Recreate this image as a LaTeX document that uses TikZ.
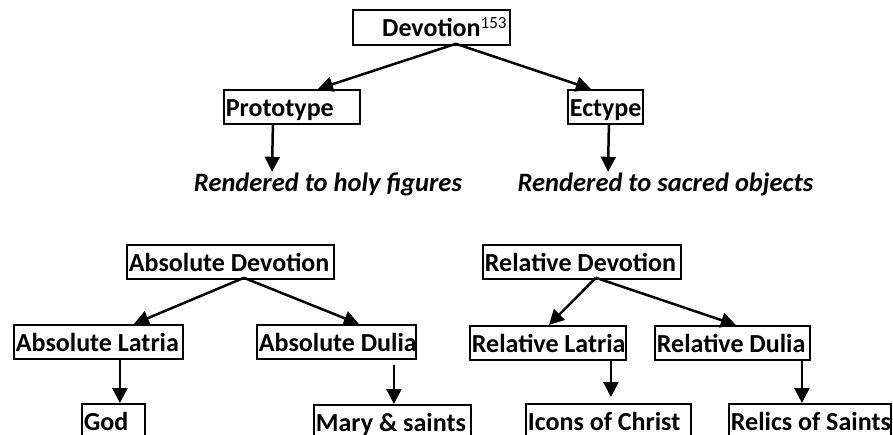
\documentclass[tikz,border=0pt]{standalone}
\usepackage{fontspec}
\setmainfont{Carlito}
\usetikzlibrary{arrows.meta,calc}
\newcommand{\lbox}[2]{\makebox[\dimexpr#1-4pt\relax][l]{#2}}
\begin{document}
\begin{tikzpicture}[x=1pt,y=-1pt,
  bx/.style={draw, line width=1.8pt, inner xsep=2pt, inner ysep=0pt, minimum height=34pt,
    text height=22pt, text depth=3pt,
    anchor=north west, font=\fontsize{26}{29}\selectfont\bfseries},
  leaf/.style={inner sep=0pt, anchor=base, text height=20pt, text depth=6pt,
    font=\fontsize{26.5}{29}\selectfont\bfseries\itshape},
  arr/.style={line width=2.5pt, -{Triangle[width=15pt,length=15pt]}}]
\clip (0,0) rectangle (893,435);
% top tree
\node[bx, minimum width=157pt, minimum height=35pt, inner xsep=0pt] (dev) at (352,9)
  {Devotion\rlap{\raisebox{8pt}{\fontsize{17}{17}\selectfont\mdseries 153}}};
\node[bx, minimum width=136pt] (proto) at (223,89) {\lbox{136pt}{Prototype}};
\node[bx, minimum width=75pt] (ect) at (567,89) {\lbox{75pt}{Ectype}};
\node[leaf] (rend1) at (328,192) {Rendered to holy figures};
\node[leaf] (rend2) at (665.5,192) {Rendered to sacred objects};
\draw[arr] ([xshift=24.5pt,yshift=2pt]dev.south) -- ([xshift=26pt]proto.north);
\draw[arr] ([xshift=24.5pt,yshift=2pt]dev.south) -- ([xshift=-14.5pt]ect.north);
\draw[arr] ([xshift=-19pt]proto.south) -- ([xshift=-56pt]rend1.north);
\draw[arr] ([xshift=3.5pt]ect.south) -- ([xshift=-57.5pt]rend2.north);
% absolute
\node[bx, minimum width=207pt] (absdev) at (126,244) {\lbox{207pt}{Absolute Devotion}};
\node[bx, minimum width=169pt] (abslat) at (13,324) {\lbox{169pt}{Absolute Latria}};
\node[bx, minimum width=159pt] (absdul) at (256,324) {\lbox{159pt}{Absolute Dulia}};
\node[bx, minimum width=63pt] (god) at (81,403) {\lbox{63pt}{God}};
\node[bx, minimum width=157pt] (mary) at (313,404) {\lbox{157pt}{Mary \& saints}};
\draw[arr] ([xshift=13.5pt,yshift=2pt]absdev.south) -- ([xshift=35.5pt]abslat.north);
\draw[arr] ([xshift=13.5pt,yshift=2pt]absdev.south) -- ([xshift=22.5pt]absdul.north);
\draw[arr] ([xshift=21.5pt]abslat.south) -- ([xshift=6.5pt]god.north);
\draw[arr] ([xshift=57.5pt,yshift=-5pt]absdul.south) -- ([xshift=1.5pt]mary.north);
% relative
\node[bx, minimum width=198pt] (reldev) at (482,244) {\lbox{198pt}{Relative Devotion}};
\node[bx, minimum width=156pt] (rellat) at (469,325) {\lbox{156pt}{Relative Latria}};
\node[bx, minimum width=155pt] (reldul) at (654,325) {\lbox{155pt}{Relative Dulia}};
\node[bx, minimum width=165pt] (icons) at (525,403) {\lbox{165pt}{Icons of Christ}};
\node[bx, minimum width=162pt] (relics) at (728,403) {\lbox{162pt}{Relics of Saints}};
\draw[arr] ([xshift=14pt,yshift=2pt]reldev.south) -- ([xshift=1pt]rellat.north);
\draw[arr] ([xshift=14pt,yshift=2pt]reldev.south) -- ([xshift=3.5pt]reldul.north);
\draw[arr] ([xshift=63pt]rellat.south) -- ([xshift=2.5pt,yshift=6pt]icons.north);
\draw[arr] ([xshift=69.5pt]reldul.south) -- ([xshift=-8pt]relics.north);
\end{tikzpicture}
\end{document}
